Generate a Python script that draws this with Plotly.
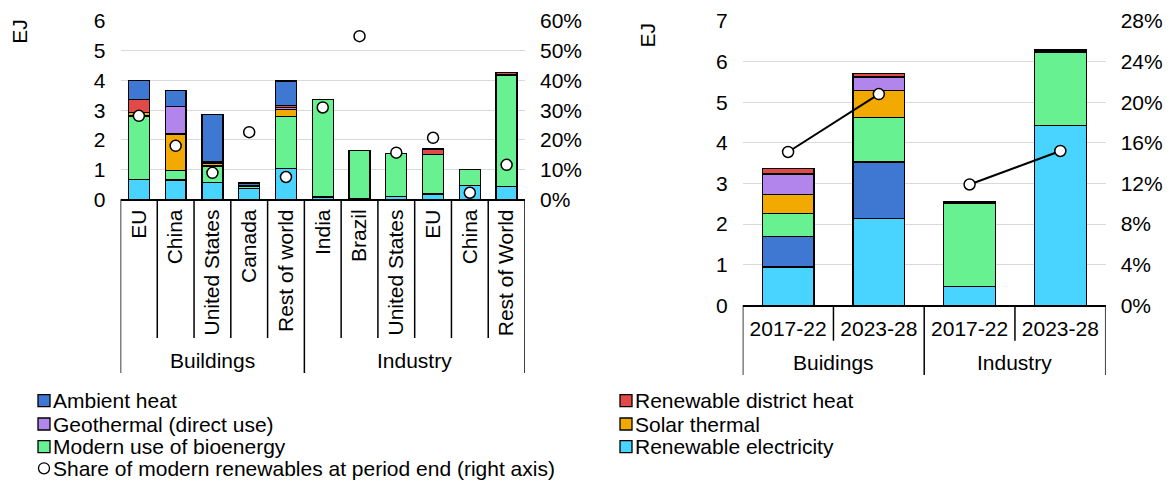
import plotly.graph_objects as go

W, H = 1173, 485
FONT = "Liberation Sans, Arial, sans-serif"
FS = 21

def fx(p):
    return p / W

def fy(p):
    return (H - p) / H

# ---------------- data: by sector and region ----------------
region_groups = ["Buildings"] * 5 + ["Industry"] * 6
regions = ["EU", "China", "United States", "Canada", "Rest of world",
           "India", "Brazil", "United States", "EU", "China", "Rest of World"]

reg_electricity = [0.67, 0.65, 0.57, 0.36, 1.04, 0.08, 0.03, 0.10, 0.18, 0.46, 0.44]
reg_bioenergy   = [2.13, 0.33, 0.55, 0.06, 1.74, 3.27, 1.62, 1.45, 1.33, 0.54, 3.74]
reg_solar       = [0.12, 1.22, 0.10, 0.02, 0.25, 0.00, 0.00, 0.00, 0.00, 0.00, 0.02]
reg_geothermal  = [0.01, 0.92, 0.03, 0.00, 0.05, 0.00, 0.00, 0.00, 0.00, 0.00, 0.00]
reg_district    = [0.44, 0.00, 0.03, 0.02, 0.07, 0.00, 0.00, 0.00, 0.18, 0.00, 0.06]
reg_ambient     = [0.63, 0.54, 1.57, 0.09, 0.83, 0.00, 0.00, 0.00, 0.00, 0.00, 0.00]
reg_share       = [28.1, 18.0, 8.9, 22.6, 7.5, 30.9, 54.9, 15.7, 20.7, 2.2, 11.6]

# ---------------- data: by sector and period ----------------
period_groups = ["Buidings", "Buidings", "Industry", "Industry"]
periods = ["2017-22", "2023-28", "2017-22", "2023-28"]

per_electricity = [0.94, 2.14, 0.47, 4.43]
per_ambient     = [0.76, 1.39, 0.00, 0.00]
per_bioenergy   = [0.56, 1.09, 2.03, 1.80]
per_solar       = [0.46, 0.67, 0.02, 0.03]
per_geothermal  = [0.51, 0.33, 0.00, 0.00]
per_district    = [0.13, 0.09, 0.02, 0.03]
per_share       = [15.1, 20.8, 11.9, 15.2]

left_ticks = [0, 1, 2, 3, 4, 5, 6]
right_ticks = [0, 1, 2, 3, 4, 5, 6, 7]

# ---------------- styling ----------------
C_AMB = "#3F78D2"
C_GEO = "#B185EB"
C_BIO = "#68F190"
C_DH = "#E24A4A"
C_SOL = "#F2A900"
C_ELE = "#48D4FF"

names = {
    "amb": "Ambient heat",
    "geo": "Geothermal (direct use)",
    "bio": "Modern use of bioenergy",
    "dh": "Renewable district heat",
    "sol": "Solar thermal",
    "ele": "Renewable electricity",
    "share": "Share of modern renewables at period end (right axis)",
}

fig = go.Figure()

def add_bar(x, y, color, name, xa, ya):
    fig.add_trace(go.Bar(
        x=x, y=y, name=name, xaxis=xa, yaxis=ya, showlegend=False,
        marker=dict(color=color, line=dict(color="#000000", width=1.3)),
    ))

# left panel: stacked by region
xl = list(range(len(regions)))
for vals, col, key in [(reg_electricity, C_ELE, "ele"), (reg_bioenergy, C_BIO, "bio"),
                       (reg_solar, C_SOL, "sol"), (reg_geothermal, C_GEO, "geo"),
                       (reg_district, C_DH, "dh"), (reg_ambient, C_AMB, "amb")]:
    add_bar(xl, vals, col, names[key], "x", "y")

fig.add_trace(go.Scatter(
    x=xl, y=[s / 100 for s in reg_share], mode="markers", xaxis="x", yaxis="y2",
    name=names["share"], showlegend=False,
    marker=dict(size=11, color="white", line=dict(color="black", width=1.5)),
))

# right panel: stacked by period
xr = list(range(len(periods)))
for vals, col, key in [(per_electricity, C_ELE, "ele"), (per_ambient, C_AMB, "amb"),
                       (per_bioenergy, C_BIO, "bio"), (per_solar, C_SOL, "sol"),
                       (per_geothermal, C_GEO, "geo"), (per_district, C_DH, "dh")]:
    add_bar(xr, vals, col, names[key], "x2", "y3")

# share line, one segment per sector
for grp in ["Buidings", "Industry"]:
    idx = [i for i, g in enumerate(period_groups) if g == grp]
    fig.add_trace(go.Scatter(
        x=idx, y=[per_share[i] / 100 for i in idx], mode="lines+markers",
        xaxis="x2", yaxis="y4", name=names["share"], showlegend=False,
        line=dict(color="black", width=2),
        marker=dict(size=11, color="white", line=dict(color="black", width=1.5)),
    ))

tickfont = dict(family=FONT, size=FS, color="black")

L_X0, L_X1, L_Y0, L_Y1 = 120.5, 525.0, 199.3, 21.0
R_X0, R_X1, R_Y0, R_Y1 = 742.7, 1105.7, 305.3, 21.0

fig.update_layout(
    template="none",
    width=W, height=H,
    margin=dict(l=0, r=0, t=0, b=0, autoexpand=False),
    paper_bgcolor="white", plot_bgcolor="white",
    barmode="stack", bargap=0.43,
    font=dict(family=FONT, size=FS, color="black"),
    showlegend=False,
    xaxis=dict(domain=[fx(L_X0), fx(L_X1)], range=[-0.5, len(regions) - 0.5],
               tickmode="array", tickvals=xl, ticktext=regions, tickangle=-90,
               ticks="", showline=True, linecolor="black", linewidth=1.5,
               showgrid=False, zeroline=False, tickfont=tickfont,
               ticklabelstandoff=0, anchor="y", automargin=False),
    yaxis=dict(domain=[fy(L_Y0), fy(L_Y1)], range=[0, 6], tickvals=left_ticks,
               showgrid=True, gridcolor="#D9D9D9", gridwidth=1.2, zeroline=False,
               showline=False, ticks="", tickfont=tickfont, ticklabelstandoff=14,
               anchor="x", automargin=False),
    yaxis2=dict(overlaying="y", side="right", range=[0, 0.6], dtick=0.1,
                tickformat=".0%", showgrid=False, zeroline=False, showline=False,
                ticks="", tickfont=tickfont, ticklabelstandoff=14, anchor="x",
                automargin=False),
    xaxis2=dict(domain=[fx(R_X0), fx(R_X1)], range=[-0.5, len(periods) - 0.5],
                tickmode="array", tickvals=xr, ticktext=periods, tickangle=0,
                ticks="", showline=True, linecolor="black", linewidth=1.5,
                showgrid=False, zeroline=False, tickfont=tickfont,
                ticklabelstandoff=4, anchor="y3", automargin=False),
    yaxis3=dict(domain=[fy(R_Y0), fy(R_Y1)], range=[0, 7], tickvals=right_ticks,
                showgrid=True, gridcolor="#D9D9D9", gridwidth=1.2, zeroline=False,
                showline=False, ticks="", tickfont=tickfont, ticklabelstandoff=14,
                anchor="x2", automargin=False),
    yaxis4=dict(overlaying="y3", side="right", range=[0, 0.28], dtick=0.04,
                tickformat=".0%", showgrid=False, zeroline=False, showline=False,
                ticks="", tickfont=tickfont, ticklabelstandoff=14, anchor="x2",
                automargin=False),
)

shapes = []
annotations = []

def vline(xref, xv, y_top, y_bot):
    shapes.append(dict(type="line", xref=xref, yref="paper", x0=xv, x1=xv,
                       y0=fy(y_top), y1=fy(y_bot),
                       line=dict(color="black", width=1.5)))

def group_boxes(groups, xref, y_axis, y_inner, y_outer, y_label):
    n = len(groups)
    for i in range(n + 1):
        edge = i == 0 or i == n or groups[i] != groups[i - 1]
        vline(xref, i - 0.5, y_axis, y_outer if edge else y_inner)
    start = 0
    for i in range(1, n + 1):
        if i == n or groups[i] != groups[start]:
            annotations.append(dict(xref=xref, yref="paper", x=(start + i - 1) / 2,
                                    y=fy(y_label), text=groups[start], showarrow=False,
                                    xanchor="center", yanchor="middle",
                                    font=dict(family=FONT, size=FS, color="black")))
            start = i

group_boxes(region_groups, "x", L_Y0, 338, 373, 360.7)
group_boxes(period_groups, "x2", R_Y0, 340.7, 375, 362.7)

# axis titles
for xp, yp in [(20, 31.7), (647.5, 35)]:
    annotations.append(dict(xref="paper", yref="paper", x=fx(xp), y=fy(yp), text="EJ",
                            textangle=-90, showarrow=False, xanchor="center",
                            yanchor="middle", font=dict(family=FONT, size=FS, color="black")))

# legend, two columns
legend_rows = [
    (38, 400.7, C_AMB, names["amb"]),
    (38, 424.0, C_GEO, names["geo"]),
    (38, 446.7, C_BIO, names["bio"]),
    (620, 400.7, C_DH, names["dh"]),
    (620, 424.0, C_SOL, names["sol"]),
    (620, 446.7, C_ELE, names["ele"]),
]
for x0, yc, col, label in legend_rows:
    shapes.append(dict(type="rect", xref="paper", yref="paper",
                       x0=fx(x0), x1=fx(x0 + 12), y0=fy(yc - 6), y1=fy(yc + 6),
                       fillcolor=col, line=dict(color="black", width=1.3)))
    annotations.append(dict(xref="paper", yref="paper", x=fx(x0 + 13), y=fy(yc),
                            text=label, showarrow=False, xanchor="left", yanchor="middle",
                            font=dict(family=FONT, size=FS, color="black")))
shapes.append(dict(type="circle", xref="paper", yref="paper",
                   x0=fx(38.5), x1=fx(49.5), y0=fy(468.3 - 5.5), y1=fy(468.3 + 5.5),
                   fillcolor="white", line=dict(color="black", width=1.3)))
annotations.append(dict(xref="paper", yref="paper", x=fx(51), y=fy(468.3),
                        text=names["share"], showarrow=False, xanchor="left",
                        yanchor="middle", font=dict(family=FONT, size=FS, color="black")))

fig.update_layout(shapes=shapes, annotations=annotations)

fig.write_html("out.html")
